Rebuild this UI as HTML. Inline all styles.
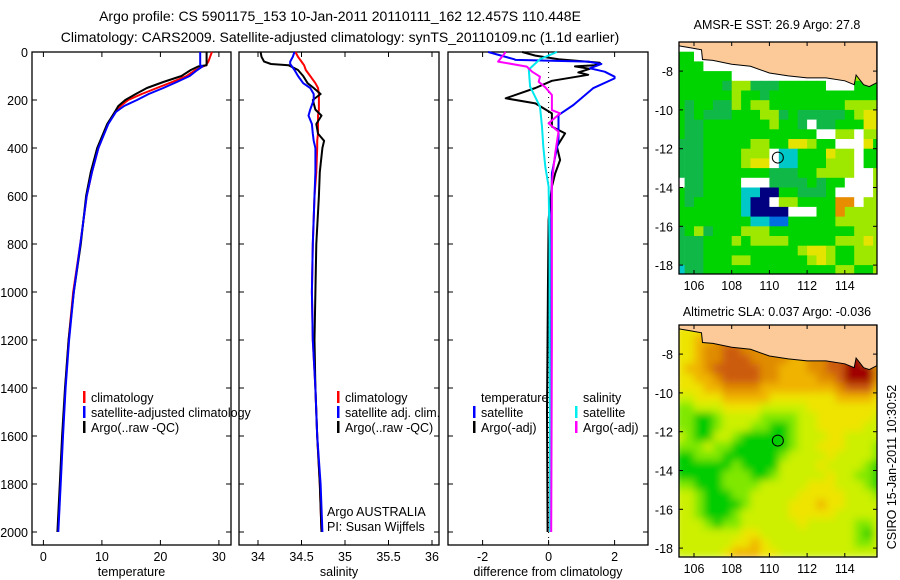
<!DOCTYPE html>
<html><head><meta charset="utf-8">
<style>
body{margin:0;background:#fff;}
svg{display:block;font-family:"Liberation Sans",sans-serif;}
text{fill:#000;}
</style></head>
<body>
<svg id="fig" width="900" height="580" viewBox="0 0 900 580">
<defs>
<filter id="smooth" x="0" y="0" width="1" height="1"><feGaussianBlur stdDeviation="4" edgeMode="duplicate"/></filter>
</defs>
<text x="340" y="21" font-size="14" text-anchor="middle">Argo profile: CS 5901175_153 10-Jan-2011 20110111_162 12.457S 110.448E</text>
<text x="340" y="42" font-size="14" text-anchor="middle">Climatology: CARS2009. Satellite-adjusted climatology: synTS_20110109.nc (1.1d earlier)</text>
<text x="777" y="29" font-size="12.5" text-anchor="middle">AMSR-E SST: 26.9 Argo: 27.8</text>
<text x="777" y="316" font-size="12.5" text-anchor="middle">Altimetric SLA: 0.037 Argo: -0.036</text>
<text transform="translate(896,467) rotate(-90)" font-size="12.5" text-anchor="middle">CSIRO 15-Jan-2011 10:30:52</text>
</svg>
<script>
// ---- profile data ----
const tempDepths=[0,20,40,55,60,75,100,125,150,175,200,225,250,300,400,500,600,800,1000,1200,1400,1600,1800,2000];
const tempClim=[28.8,28.5,28.2,27.8,27.3,26,24.5,22,19.4,16.8,14.5,13.2,12.2,11,9.4,8.3,7.4,6.3,5.1,4.3,3.75,3.3,2.9,2.5];
const tempSat=[26.8,26.8,26.8,26.8,27.2,26.3,25,22.8,20.5,18,16,13.8,12.4,11.1,9.4,8.3,7.4,6.3,5.2,4.4,3.8,3.35,2.95,2.55];
const tempArgo=[27.9,27.9,27.9,27.9,26.5,25.2,23.6,20.5,17.7,15.8,14,12.8,12.2,10.9,9.2,8.1,7.3,6.4,5.2,4.3,3.7,3.2,2.8,2.4];
const salDepths=[0,20,40,50,55,75,100,130,150,175,200,240,265,300,340,370,400,500,600,800,1000,1200,1400,1600,1800,2000];
const salArgo=[34.03,34.04,34.07,34.15,34.35,34.46,34.52,34.57,34.64,34.72,34.63,34.66,34.73,34.67,34.69,34.76,34.74,34.71,34.70,34.67,34.66,34.65,34.66,34.68,34.71,34.73];
const salSat=[34.42,34.40,34.37,34.37,34.38,34.42,34.46,34.52,34.6,34.64,34.64,34.6,34.58,34.62,34.63,34.64,34.66,34.66,34.65,34.63,34.62,34.63,34.66,34.68,34.72,34.74];
const salClim=[34.43,34.46,34.5,34.52,34.53,34.55,34.6,34.66,34.69,34.70,34.70,34.70,34.69,34.69,34.69,34.68,34.68,34.67,34.65,34.63,34.62,34.63,34.66,34.68,34.71,34.73];
const dTsatDepths=[0,30,33,40,50,68,82,103,110,151,221,263,367,436,506,700,1000,1500,2000];
const dTsat=[-1.83,-1.05,-1.0,1.2,1.6,1.25,1.7,2.0,2.0,1.35,0.75,0.3,0.3,0.2,0.1,0.08,0.08,0.06,0.05];
const dTargoDepths=[0,15,30,45,55,60,70,85,95,120,150,193,214,256,311,339,394,450,506,561,617,700,1000,1500,2000];
const dTargo=[-0.8,-0.4,0.3,1.55,1.4,0.8,1.25,0.9,1.2,0.1,-0.4,-1.3,-0.4,0.1,0.1,0.5,0.25,0.35,0.2,0.1,0.05,0,-0.02,-0.05,-0.03];
const dSsatDepths=[0,30,73,144,228,311,394,478,561,800,1200,2000];
const dSsat=[0.25,-0.26,-0.6,-0.56,-0.26,-0.2,-0.16,-0.1,0,0.03,0.03,0.05];
const dSargoDepths=[0,40,61,82,103,124,147,179,242,256,297,332,422,478,547,800,1200,2000];
const dSargo=[-1.3,-1.53,-0.66,-0.5,-0.26,-0.3,-0.1,0.1,0.1,0.35,0.0,0.3,0.2,0.15,0.1,0.1,0.1,0.08];
const depthTicks=[0,200,400,600,800,1000,1200,1400,1600,1800,2000];
const tempTicks=[0,10,20,30];
const salTicks=[34,34.5,35,35.5,36];
const salTickLabels=["34","34.5","35","35.5","36"];
const diffTicks=[-2,0,2];
// ---- map data (0.5 deg cells, lon 105..116, lat -6.5..-18.5) ----
const sstRows=[
"wwwwwwwwwwwwwwwwwwwwww","ggwwwwwwwwwwwwwwwwwggg","gggwwwwwwwwwwwwwwwwggg","ggggggwwwwwwwwwwwwwyyg",
"gggggGyyGGGgggggwwwggg","ggggggyggGgggggggggggg","gGggGGygyyggggggggyyyy","gGgGGGgggyyGgGGGGGgyYY",
"gGGgggggggyggGwGGgggYY","gGGggggggggggggwwyywyy","GGGgggggyyggYYyggwwwYg","GGGggggyyywccgggYyywgg",
"GGGggggyYYwccgggyyywgg","GGGgggggggGGGggyyyywwy","wGGggggwwwGGGGgGggwwwy","gGGggggccnnggGGGgwwwwy",
"gGgggggcnnwyyggggoowyy","gggggggcnnnnwwwggoyyyy","ggggggggccbbgggggyyyyy","GgyGgggyyygggggggggyyy",
"GGGgggygyyyygggggyyyYy","GGGggggggggggyYYyggyyy","GGGgggyyggggggyYyggyyy","cGGggggggggggggggyyggy"];
const slaRows=[
"4445555555555555555554","4455666666666666666655","4456677666666666677755","4456677766665566778865",
"4556777776655566778886","4455677776655556678886","4445566665555555567775","3344455555444444455554",
"2233344443333344444444","2211233332222334444443","2211233322112334444433","3211332111112333443333",
"2223221111112334443332","1122211111123333433332","1111112111133334333321","1111122211233333433221",
"2211122223333344433321","3321112233333444443332","3321111233334445443333","3321112333334444433333",
"3332122333333433333223","3333333443333333333213","3333334454333333333223","3333345554433333333333"];
const landLon=[105.2,105.2,105.8,106.4,106.45,107,108,109,110,111,112,113,114,114.5,114.6,115,115.3,115.7,115.7];
const landLat=[-6.5,-6.7,-6.8,-6.9,-7.4,-7.45,-7.65,-7.75,-8.1,-8.25,-8.35,-8.35,-8.5,-8.7,-8.2,-8.7,-8.8,-8.6,-6.5];
const floatLon=110.448, floatLat=-12.457;
const lonTicks=[106,108,110,112,114];
const latTicks1=[-6,-8,-10,-12,-14,-16,-18];
const latTicks2=[-8,-10,-12,-14,-16,-18];

const NS="http://www.w3.org/2000/svg";
const svg=document.getElementById('fig');
function mk(tag,attrs,parent){const e=document.createElementNS(NS,tag);for(const k in attrs)e.setAttribute(k,attrs[k]);(parent||svg).appendChild(e);return e;}
const yD=d=>52+d*0.24;
const panelTop=52,panelBot=545;

function panel(name,x0,x1,xs,ticks,labels,xlabel,showY){
  const g=mk('g',{});
  
  
  const r=mk('rect',{x:x0,y:panelTop,width:x1-x0,height:panelBot-panelTop,fill:'none',stroke:'#000','stroke-width':1.3},g);
  
  
  depthTicks.forEach(d=>{const y=yD(d);
    mk('line',{x1:x0,x2:x0+5,y1:y,y2:y,stroke:'#000'},g);mk('line',{x1:x1-5,x2:x1,y1:y,y2:y,stroke:'#000'},g);
    if(showY){const t=mk('text',{x:28,y:y+5,'font-size':12.5,'text-anchor':'end'},g);t.textContent=d;
      
      }
  });
  ticks.forEach((v,i)=>{const x=xs(v);
    mk('line',{x1:x,x2:x,y1:panelBot,y2:panelBot-5,stroke:'#000'},g);mk('line',{x1:x,x2:x,y1:panelTop,y2:panelTop+5,stroke:'#000'},g);
    const t=mk('text',{x:x,y:561,'font-size':12.5,'text-anchor':'middle'},g);t.textContent=labels[i];
    
    });
  const xl=mk('text',{x:(x0+x1)/2,y:576,'font-size':12.5,'text-anchor':'middle'},g);xl.textContent=xlabel;
  
  
  return g;
}
function line(name,xs,depths,vals,color,w){
  const pts=depths.map((d,i)=>xs(vals[i]).toFixed(1)+','+yD(d).toFixed(1)).join(' ');
  const p=mk('polyline',{points:pts,fill:'none',stroke:color,'stroke-width':w||2,'stroke-linejoin':'round'});
  
  
}
function legend(items,xm,y0){
  items.forEach((it,i)=>{const y=y0+i*15;
    const m=mk('rect',{x:xm,y:y-11,width:2.5,height:12,fill:it[1]});
    
    
    const t=mk('text',{x:xm+8,y:y,'font-size':12.5});t.textContent=it[0];
    
    });
}
function text(s,x,y,name,anchor){const t=mk('text',{x:x,y:y,'font-size':12.5,'text-anchor':anchor||'start'});t.textContent=s;
  
  return t;}

// Temperature panel
const xT=v=>43.4+v*5.85;
panel('temperature-panel',32,231,xT,tempTicks,tempTicks.map(String),'temperature',true);
line('temp-climatology',xT,tempDepths,tempClim,'#ff0000');
line('temp-argo',xT,tempDepths,tempArgo,'#000000');
line('temp-satellite-adjusted',xT,tempDepths,tempSat,'#0000ff');
legend([['climatology','#f00'],['satellite-adjusted climatology','#00f'],['Argo(..raw -QC)','#000']],83,402);

// Salinity panel
const xS=v=>258+(v-34)*87;
panel('salinity-panel',239,439,xS,salTicks,salTickLabels,'salinity',false);
line('sal-climatology',xS,salDepths,salClim,'#ff0000');
line('sal-argo',xS,salDepths,salArgo,'#000000');
line('sal-satellite-adjusted',xS,salDepths,salSat,'#0000ff');
legend([['climatology','#f00'],['satellite adj. clim.','#00f'],['Argo(..raw -QC)','#000']],337,402);
text('Argo AUSTRALIA',327,516,'argo-agency');
text('PI: Susan Wijffels',327,531,'principal-investigator');

// Difference panel
const xDf=v=>548.6+v*33;
panel('difference-panel',448,648,xDf,diffTicks,diffTicks.map(String),'difference from climatology',false);
mk('line',{x1:xDf(0),x2:xDf(0),y1:52,y2:545,stroke:'#000','stroke-dasharray':'1,4'});
line('diff-temp-argo',xDf,dTargoDepths,dTargo,'#000000');
line('diff-temp-satellite',xDf,dTsatDepths,dTsat,'#0000ff');
line('diff-sal-satellite',xDf,dSsatDepths,dSsat,'#00e8ee');
line('diff-sal-argo',xDf,dSargoDepths,dSargo,'#ff00ff');
text('temperature',481,402,'legend-title-temperature');
text('salinity',583,402,'legend-title-salinity');
legend([['satellite','#00f'],['Argo(-adj)','#000']],473,417);
legend([['satellite','#0ee'],['Argo(-adj)','#f0f']],575,417);

// Maps
const sstColors={w:'#ffffff',g:'#00d400',G:'#10b848',y:'#9ee800',Y:'#e4e400',c:'#00c8c8',n:'#000080',b:'#0070e0',o:'#e88c00'};
const slaColors={'1':'#00cc00','2':'#80e800','3':'#ccf000','4':'#eee400','5':'#f0b400','6':'#e08c00','7':'#cc5c10','8':'#a00000'};
function map(name,top,rows,colors,latTicks,smooth){
  const L=679,R=877,B=top+232;
  const xl=lon=>694+(lon-106)*18.85;
  const yl=lat=>top+(-6.5-lat)*19.4;
  const g=mk('g',{});
  
  
  const cid=name+'-clip';
  const cp=mk('clipPath',{id:cid},g);mk('rect',{x:L,y:top,width:R-L,height:B-top},cp);
  const cg=mk('g',{'clip-path':'url(#'+cid+')'},g);
  const cells=mk('g',smooth?{filter:'url(#smooth)'}:{},cg);
  rows.forEach((row,j)=>{for(let i=0;i<row.length;i++){
    const lon0=105+0.5*i, lat0=-6.5-0.5*j;
    const x=xl(lon0),y=yl(lat0);
    const c=mk('rect',{x:x.toFixed(1),y:y.toFixed(1),width:(xl(lon0+0.5)-x+0.4).toFixed(1),height:(yl(lat0-0.5)-y+0.4).toFixed(1),fill:colors[row[i]]},cells);
    
    }});
  const land=mk('polygon',{points:landLon.map((v,i)=>xl(v).toFixed(1)+','+yl(landLat[i]).toFixed(1)).join(' '),fill:'#fbca98',stroke:'#000','stroke-width':1},cg);
  
  
  const dot=mk('circle',{cx:xl(floatLon),cy:yl(floatLat),r:5.5,fill:'none',stroke:'#000','stroke-width':1},g);
  
  
  mk('rect',{x:L,y:top,width:R-L,height:B-top,fill:'none',stroke:'#000','stroke-width':1.3},g);
  lonTicks.forEach(v=>{const x=xl(v);mk('line',{x1:x,x2:x,y1:top,y2:top+4,stroke:'#000'},g);mk('line',{x1:x,x2:x,y1:B,y2:B-4,stroke:'#000'},g);
    const t=mk('text',{x:x,y:B+16,'font-size':12.5,'text-anchor':'middle'},g);t.textContent=v;
    
    });
  latTicks.forEach(v=>{const y=yl(v);if(y<top||y>B)return;mk('line',{x1:L,x2:L+4,y1:y,y2:y,stroke:'#000'},g);mk('line',{x1:R-4,x2:R,y1:y,y2:y,stroke:'#000'},g);
    const t=mk('text',{x:673,y:y+5,'font-size':12.5,'text-anchor':'end'},g);t.textContent=v;
    
    });
}
map('sst-map',42,sstRows,sstColors,latTicks1,false);
map('sla-map',325,slaRows,slaColors,latTicks2,true);
</script>
</body></html>
